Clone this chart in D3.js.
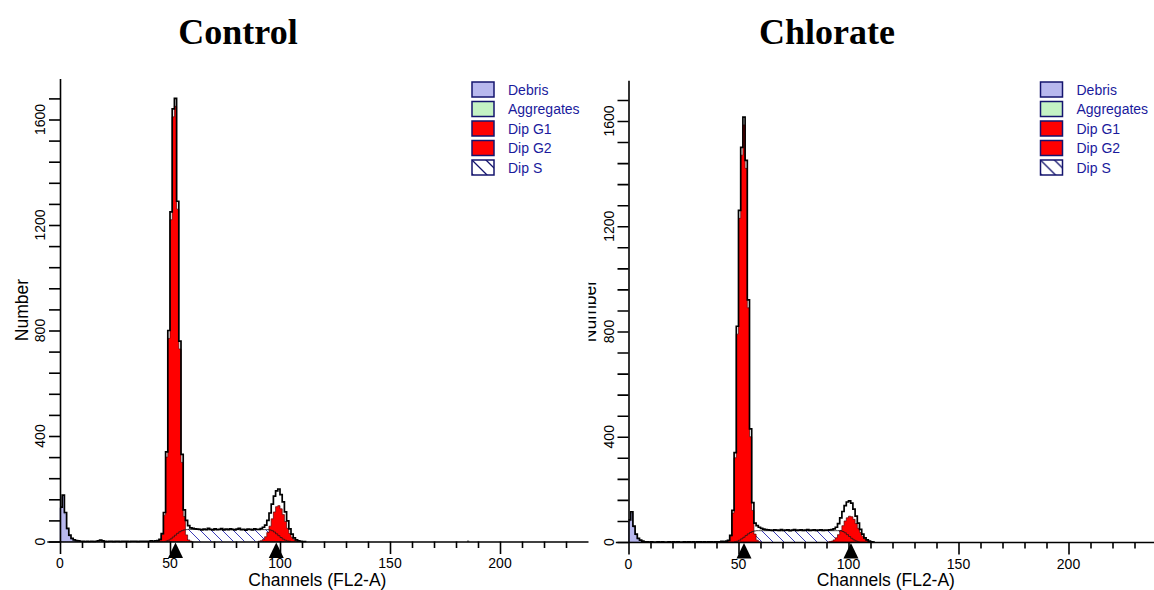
<!DOCTYPE html>
<html>
<head>
<meta charset="utf-8">
<script src="https://cdn.jsdelivr.net/npm/d3@7"></script>
<style>
  html, body { margin: 0; padding: 0; background: #fff; }
  svg { display: block; }
</style>
</head>
<body>
<svg id="chart" width="1154" height="590"></svg>
<script>
// ---- Labels and ticks ----
const panelTitles = ["Control", "Chlorate"];
const legendLabels = ["Debris", "Aggregates", "Dip G1", "Dip G2", "Dip S"];
const yTickLabels = [0, 400, 800, 1200, 1600];
const yMinorStep = 80;
const xTickLabels = [0, 50, 100, 150, 200];
const xMinorStep = 10;
const xAxisTitle = "Channels (FL2-A)";
const yAxisTitle = "Number";

// ---- Control: DNA histogram (counts per channel, from channel 0) ----
const controlData = [
  130, 176, 110, 50, 24, 12, 6, 3, 2, 1,
  1, 0, 1, 0, 1, 0, 1, 2, 5, 2,
  1, 0, 1, 1, 0, 1, 1, 0, 1, 1,
  1, 0, 1, 1, 1, 0, 1, 1, 1, 1,
  1, 2, 1, 2, 3, 8, 30, 110, 340, 800,
  1250, 1640, 1680, 1290, 760, 330, 120, 80, 60, 52,
  50, 48, 47, 46, 44, 47, 45, 50, 46, 44,
  48, 45, 46, 49, 44, 47, 45, 48, 46, 44,
  47, 50, 45, 46, 43, 47, 46, 44, 48, 46,
  46, 49, 54, 62, 80, 108, 142, 172, 192, 199,
  178, 150, 112, 78, 48, 28, 14, 6, 2, 1,
  0, 0
];
const controlEvents = [[185, 3]];
const controlDebrisStart = 0;
const controlDebris = [128, 170, 105, 46, 20, 9, 4, 2, 1];
const controlG1Start = 44;
const controlG1 = [2, 7, 27, 100, 320, 770, 1220, 1610, 1650, 1260, 730, 300, 95, 25, 6, 1];
const controlSStart = 48;
const controlS = [
  2, 5, 10, 17, 24, 31, 37, 41, 44, 45,
  46, 46, 46, 46, 46, 46, 45, 45, 45, 45,
  45, 45, 45, 45, 45, 45, 45, 45, 45, 45,
  45, 45, 45, 45, 45, 45, 45, 45, 45, 45,
  45, 45, 45, 45, 45, 45, 45,
  44, 41, 36, 29, 22, 15, 9, 5, 2, 1
];
const controlG2Start = 90;
const controlG2 = [1, 3, 8, 18, 34, 58, 86, 112, 132, 136, 124, 102, 76, 50, 30, 16, 7, 3, 1];
const controlPeaks = [52.5, 98.3];

// ---- Chlorate: DNA histogram (counts per channel, from channel 0) ----
const chlorateData = [
  84, 115, 60, 30, 14, 7, 3, 1, 1, 0,
  1, 0, 0, 1, 0, 1, 0, 0, 1, 0,
  1, 0, 1, 0, 0, 1, 0, 1, 0, 1,
  0, 1, 1, 0, 1, 0, 1, 1, 0, 1,
  1, 1, 2, 1, 3, 6, 25, 120, 340, 820,
  1260, 1500, 1615, 1450, 920, 430, 150, 72, 62, 56,
  52, 49, 47, 46, 45, 44, 46, 45, 44, 47,
  44, 45, 46, 43, 45, 47, 44, 45, 46, 44,
  45, 47, 44, 45, 46, 44, 45, 46, 44, 45,
  45, 46, 47, 50, 56, 70, 92, 116, 138, 152,
  156, 148, 125, 98, 72, 48, 30, 16, 8, 3,
  1, 0
];
const chlorateEvents = [];
const chlorateDebrisStart = 0;
const chlorateDebris = [80, 110, 56, 27, 12, 5, 2, 1];
const chlorateG1Start = 44;
const chlorateG1 = [1, 5, 22, 110, 320, 790, 1230, 1470, 1585, 1420, 890, 400, 120, 30, 7, 1];
const chlorateSStart = 48;
const chlorateS = [
  1, 3, 7, 12, 18, 25, 31, 36, 40, 42,
  43, 43, 43, 43, 43, 43, 43, 43, 43, 43,
  43, 43, 43, 43, 43, 43, 43, 43, 43, 43,
  43, 43, 43, 43, 43, 43, 43, 43, 43, 43,
  43, 43, 43, 43, 43, 43, 43, 43, 43,
  40, 35, 28, 21, 14, 8, 4, 1
];
const chlorateG2Start = 91;
const chlorateG2 = [1, 3, 8, 16, 28, 44, 62, 80, 92, 98, 96, 86, 70, 52, 36, 22, 12, 6, 2, 1];
const chloratePeaks = [52.5, 101.1];

// ---- Colours ----
const legendColors = ["#b8b8ee", "#c4f2c4", "#ff0000", "#ff0000", "hatch"];
const legendText = "#1a1a9c";

// ---- Panel layout ----
const panels = [
  { title: panelTitles[0], data: controlData, events: controlEvents,
    debris: [controlDebrisStart, controlDebris], g1: [controlG1Start, controlG1],
    s: [controlSStart, controlS], g2: [controlG2Start, controlG2], peaks: controlPeaks,
    ox: 60, oy: 541.5, pxPerCount: 422 / 1600, titleX: 238, clipX: 0 },
  { title: panelTitles[1], data: chlorateData, events: chlorateEvents,
    debris: [chlorateDebrisStart, chlorateDebris], g1: [chlorateG1Start, chlorateG1],
    s: [chlorateSStart, chlorateS], g2: [chlorateG2Start, chlorateG2], peaks: chloratePeaks,
    ox: 628.5, oy: 542, pxPerCount: 421 / 1600, titleX: 827, clipX: 588.5 }
];

const pxPerChannel = 2.2;
const chanMin = -6, chanMax = 240, countMax = 1755;
const sans = "'Liberation Sans', Arial, sans-serif";

const svg = d3.select("#chart");
const defs = svg.append("defs");

defs.append("pattern")
  .attr("id", "hatch").attr("patternUnits", "userSpaceOnUse")
  .attr("width", 11).attr("height", 11)
  .append("path")
  .attr("d", "M-1,-1 L12,12 M-1,10 L1,12 M10,-1 L12,1")
  .attr("stroke", "#3c3cb8").attr("stroke-width", 1).attr("fill", "none");

defs.append("pattern")
  .attr("id", "hatchLegend").attr("patternUnits", "userSpaceOnUse")
  .attr("width", 14).attr("height", 14)
  .append("path")
  .attr("d", "M-1,-1 L15,15 M-1,13 L1,15 M13,-1 L15,1")
  .attr("stroke", "#14146e").attr("stroke-width", 1.3).attr("fill", "none");

// step bins: channel c covers [c, c+1)
function bins(start, values) {
  const pts = values.map((v, i) => [start + i, v]);
  pts.push([start + values.length, values[values.length - 1]]);
  return pts;
}

panels.forEach((p, pi) => {
  const clipId = "clip" + pi;
  defs.append("clipPath").attr("id", clipId)
    .append("rect").attr("x", p.clipX).attr("y", 0).attr("width", 1154).attr("height", 590);

  const g = svg.append("g").attr("clip-path", `url(#${clipId})`);

  const x = d3.scaleLinear().domain([chanMin, chanMax])
    .range([p.ox + chanMin * pxPerChannel, p.ox + chanMax * pxPerChannel]);
  const y = d3.scaleLinear().domain([0, countMax])
    .range([p.oy, p.oy - countMax * p.pxPerCount]);

  const area = d3.area().curve(d3.curveStepAfter)
    .x(d => x(d[0])).y0(y(0)).y1(d => y(d[1]));
  const line = d3.line().curve(d3.curveStepAfter)
    .x(d => x(d[0])).y(d => y(d[1]));

  // title
  svg.append("text")
    .attr("x", p.titleX).attr("y", 44)
    .attr("text-anchor", "middle")
    .attr("font-family", "'Liberation Serif', 'Times New Roman', serif")
    .attr("font-weight", "bold").attr("font-size", 36)
    .attr("fill", "#000")
    .text(p.title);

  // debris
  g.append("path").datum(bins(p.debris[0], p.debris[1]))
    .attr("d", area).attr("fill", legendColors[0])
    .attr("stroke", "#5a5a90").attr("stroke-width", 0.6);

  // S phase
  const sPts = bins(p.s[0], p.s[1]);
  g.append("path").datum(sPts).attr("d", area).attr("fill", "#fff");
  g.append("path").datum(sPts).attr("d", area).attr("fill", "url(#hatch)");

  // G1 and G2
  [p.g1, p.g2].forEach(comp => {
    g.append("path").datum(bins(comp[0], comp[1]))
      .attr("d", area).attr("fill", "#ff0000")
      .attr("stroke", "#5a0000").attr("stroke-width", 0.7);
  });

  // S outline over the peaks
  g.append("path").datum(sPts).attr("d", line)
    .attr("fill", "none").attr("stroke", "#1a1a1a").attr("stroke-width", 0.8);

  // measured histogram
  g.append("path").datum(bins(0, p.data)).attr("d", line)
    .attr("fill", "none").attr("stroke", "#000").attr("stroke-width", 1.7);

  p.events.forEach(ev => {
    g.append("rect")
      .attr("x", x(ev[0])).attr("width", x(ev[0] + 1) - x(ev[0]))
      .attr("y", y(ev[1])).attr("height", y(0) - y(ev[1]))
      .attr("fill", "#000");
  });

  // y axis
  const yAxis = d3.axisLeft(y)
    .tickValues(d3.range(0, yTickLabels[yTickLabels.length - 1] + yMinorStep + 1, yMinorStep))
    .tickSize(11).tickSizeOuter(0).tickFormat("");
  const ya = g.append("g").attr("transform", `translate(${p.ox},0)`).call(yAxis);
  ya.selectAll("path, line").attr("stroke", "#000").attr("stroke-width", 1.6);

  yTickLabels.forEach(v => {
    const bx = p.ox - 15, by = y(v);
    g.append("text")
      .attr("x", bx).attr("y", by)
      .attr("transform", `rotate(-90,${bx},${by})`)
      .attr("text-anchor", "middle")
      .attr("font-family", sans).attr("font-size", 14).attr("fill", "#000")
      .text(v);
  });

  // x axis
  const xAxis = d3.axisBottom(x)
    .tickValues(d3.range(0, 231, xMinorStep))
    .tickSize(6.5).tickSizeOuter(0).tickFormat("");
  const xa = g.append("g").attr("transform", `translate(0,${p.oy})`).call(xAxis);
  xa.selectAll("path, line").attr("stroke", "#000").attr("stroke-width", 1.6);
  xa.selectAll(".tick line").filter(d => xTickLabels.includes(d)).attr("y2", 12.5);

  xTickLabels.forEach(v => {
    g.append("text")
      .attr("x", x(v)).attr("y", p.oy + 26.5)
      .attr("text-anchor", "middle")
      .attr("font-family", sans).attr("font-size", 14).attr("fill", "#000")
      .text(v);
  });

  // peak markers
  p.peaks.forEach(c => {
    const cx = x(c), top = p.oy + 1, bot = p.oy + 16.5;
    g.append("path")
      .attr("d", `M${cx - 7.5},${bot} L${cx + 7.5},${bot} L${cx},${top} Z`)
      .attr("fill", "#000");
  });

  // axis titles
  g.append("text")
    .attr("x", (x(chanMin) + x(chanMax)) / 2).attr("y", p.oy + 44)
    .attr("text-anchor", "middle")
    .attr("font-family", sans).attr("font-size", 17.5).attr("fill", "#000")
    .text(xAxisTitle);

  const nx = p.ox - 32, ny = (y(0) + y(countMax)) / 2;
  g.append("text")
    .attr("x", nx).attr("y", ny)
    .attr("transform", `rotate(-90,${nx},${ny})`)
    .attr("text-anchor", "middle")
    .attr("font-family", sans).attr("font-size", 17.5).attr("fill", "#000")
    .text(yAxisTitle);

  // legend
  const lg = g.append("g").attr("transform", `translate(${p.ox + 412},82)`);
  legendLabels.forEach((lab, i) => {
    const row = lg.append("g").attr("transform", `translate(0,${i * 19.5})`);
    if (legendColors[i] === "hatch") {
      row.append("rect").attr("width", 22).attr("height", 15).attr("fill", "#fff");
      row.append("rect").attr("width", 22).attr("height", 15).attr("fill", "url(#hatchLegend)")
        .attr("stroke", "#14146e").attr("stroke-width", 1.5);
    } else {
      row.append("rect").attr("width", 22).attr("height", 15).attr("fill", legendColors[i])
        .attr("stroke", "#14146e").attr("stroke-width", 1.5);
    }
    row.append("text")
      .attr("x", 36).attr("y", 12.5)
      .attr("font-family", sans).attr("font-size", 14).attr("fill", legendText)
      .text(lab);
  });
});
</script>
</body>
</html>
